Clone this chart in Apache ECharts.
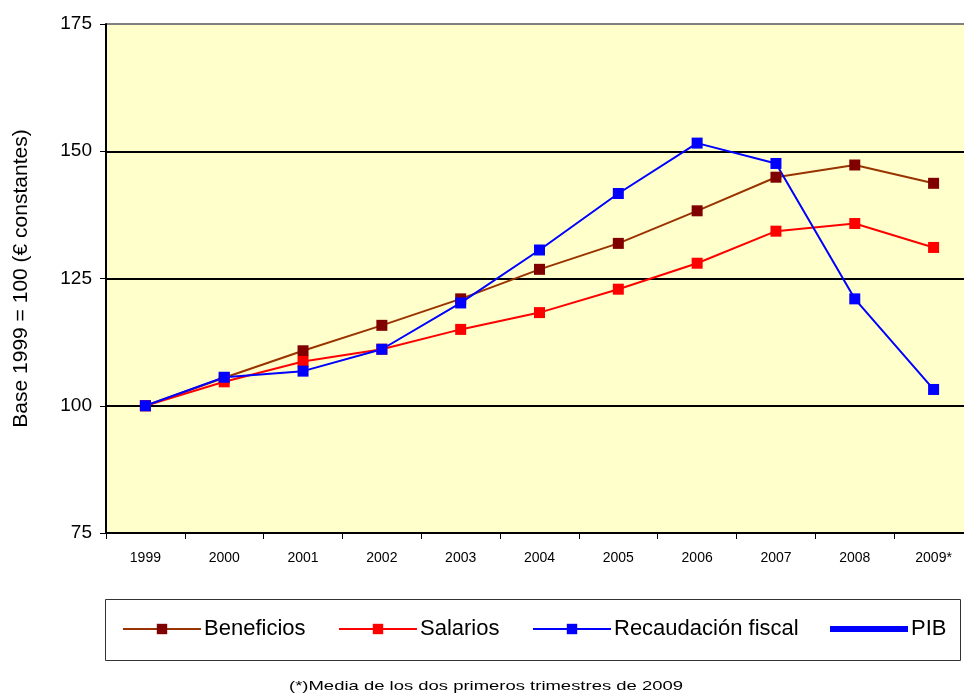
<!DOCTYPE html>
<html><head><meta charset="utf-8">
<script src="https://cdn.jsdelivr.net/npm/echarts@6/dist/echarts.min.js"></script>
<style>html,body{margin:0;padding:0;background:#fff}#c{width:964px;height:693px}</style>
</head><body><div id="c"></div>
<script>
const categories = ['1999','2000','2001','2002','2003','2004','2005','2006','2007','2008','2009*'];
const beneficios = [100, 105.5, 110.8, 115.8, 121.0, 126.8, 131.9, 138.3, 144.9, 147.3, 143.7];
const salarios = [100, 104.7, 108.7, 111.1, 115.0, 118.3, 122.9, 128.0, 134.3, 135.8, 131.1];
const recaudacion = [100, 105.6, 106.8, 111.1, 120.2, 130.6, 141.7, 151.6, 147.6, 121.0, 103.2];
const pib = [];
const seriesNames = ['Beneficios', 'Salarios', 'Recaudación fiscal', 'PIB'];
const yTitle = 'Base 1999 = 100 (€ constantes)';
const footnote = '(*)Media de los dos primeros trimestres de 2009';

const FONT = 'Arial, "Liberation Sans", sans-serif';
const chart = echarts.init(document.getElementById('c'), null, {renderer: 'canvas'});

function legendAt(item, left, h) {
  return {
    data: [item], left: left, top: 618, itemWidth: 78, itemHeight: h, itemGap: 0,
    textStyle: {fontFamily: FONT, fontSize: 22, color: '#000', padding: [0, 0, 0, -2]},
    padding: 0, selectedMode: false
  };
}

chart.setOption({
  animation: false,
  backgroundColor: '#fff',
  grid: {left: 106, right: -9, top: 24, bottom: 160, show: true, backgroundColor: '#FFFFCC', borderWidth: 0,
         containLabel: false, outerBoundsMode: 'none'},
  legend: [
    legendAt(seriesNames[0], 122, 13),
    legendAt(seriesNames[1], 338, 13),
    legendAt(seriesNames[2], 532, 13),
    legendAt({name: seriesNames[3], icon: 'rect', itemStyle: {color: '#0000FF'}}, 830, 6)
  ],
  xAxis: {
    type: 'category', data: categories, boundaryGap: true,
    axisLine: {lineStyle: {color: '#000', width: 2}},
    axisTick: {show: true, length: 6, lineStyle: {color: '#000', width: 1}},
    axisLabel: {fontFamily: FONT, fontSize: 14, color: '#000', margin: 18, interval: 0},
    splitLine: {show: false}
  },
  yAxis: {
    type: 'value', min: 75, max: 175, interval: 25,
    name: yTitle, nameLocation: 'middle', nameGap: 74, nameRotate: 90,
    nameTextStyle: {fontFamily: FONT, fontSize: 21, color: '#000'},
    axisLine: {show: true, lineStyle: {color: '#000', width: 2}},
    axisTick: {show: true, length: 6, lineStyle: {color: '#000'}},
    axisLabel: {fontFamily: FONT, fontSize: 19, color: '#000', margin: 14},
    splitLine: {show: true, lineStyle: {color: ['#000', '#000', '#000', '#000', '#808080'], width: 2}}
  },
  graphic: [
    {type: 'rect', shape: {x: 105.5, y: 599.5, width: 855, height: 61}, style: {fill: 'none', stroke: '#333', lineWidth: 1}, z: -1},
    {type: 'text', x: 486, y: 686, scaleX: 1.42,
     style: {text: footnote, font: '13px ' + FONT, fill: '#000', align: 'center', verticalAlign: 'middle'}}
  ],
  series: [
    {name: seriesNames[0], type: 'line', data: beneficios, symbol: 'rect', symbolSize: 11,
     lineStyle: {color: '#993300', width: 2}, itemStyle: {color: '#800000'}},
    {name: seriesNames[1], type: 'line', data: salarios, symbol: 'rect', symbolSize: 11,
     lineStyle: {color: '#FF0000', width: 2}, itemStyle: {color: '#FF0000'}},
    {name: seriesNames[2], type: 'line', data: recaudacion, symbol: 'rect', symbolSize: 11,
     lineStyle: {color: '#0000FF', width: 2}, itemStyle: {color: '#0000FF'}},
    {name: seriesNames[3], type: 'line', data: pib, symbol: 'none',
     lineStyle: {color: '#0000FF', width: 6}, itemStyle: {color: '#0000FF'}}
  ]
});
</script></body></html>
